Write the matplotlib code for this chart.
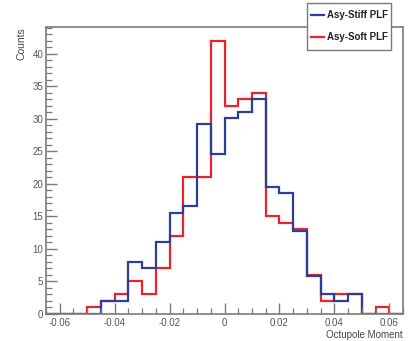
import numpy as np
import matplotlib
matplotlib.use("Agg")
import matplotlib.pyplot as plt
from matplotlib.ticker import MultipleLocator, FixedLocator, FixedFormatter
from matplotlib.lines import Line2D
from matplotlib.patches import Rectangle

# ---- data ----
bin_edges = np.round(np.arange(-0.065, 0.0651, 0.005), 4)
asy_soft = [0, 0, 0, 1, 2, 3, 5, 3, 7, 12, 21, 21, 42, 32, 33, 34,
            15, 14, 13, 6, 2, 3, 3, 0, 1, 0]
asy_stiff = [0, 0, 0, 0, 2, 2, 8, 7, 11, 15.6, 16.6, 29.2, 24.6, 30.2, 31.1, 33.1,
             19.6, 18.6, 12.8, 5.9, 3, 2, 3, 0, 0, 0]
x_ticks = [-0.06, -0.04, -0.02, 0, 0.02, 0.04, 0.06]
x_tick_labels = ["-0.06", "-0.04", "-0.02", "0", "0.02", "0.04", "0.06"]
y_ticks = [0, 5, 10, 15, 20, 25, 30, 35, 40]
series_names = ["Asy-Stiff PLF", "Asy-Soft PLF"]

BLUE = "#2b3f98"
RED = "#e8232a"
FRAME = "#7a7a7a"
TXT = "#555555"

plt.rcParams['font.family'] = ['Liberation Sans', 'DejaVu Sans']

W, H = 409, 341
fig = plt.figure(figsize=(W / 100, H / 100), dpi=100)
ax = fig.add_axes([46 / W, 1 - 314 / H, (403 - 46) / W, (314 - 27) / H])

ax.stairs(asy_soft, bin_edges, baseline=0, color=RED, linewidth=1.6)
ax.stairs(asy_stiff, bin_edges, baseline=0, color=BLUE, linewidth=1.6)

ax.set_xlim(-0.065, 0.065)
ax.set_ylim(0, 44.15)

ax.xaxis.set_major_locator(FixedLocator(x_ticks))
ax.xaxis.set_major_formatter(FixedFormatter(x_tick_labels))
ax.xaxis.set_minor_locator(MultipleLocator(0.005))
ax.yaxis.set_major_locator(FixedLocator(y_ticks))
ax.yaxis.set_minor_locator(MultipleLocator(1))

ax.tick_params(which='both', direction='in', top=False, right=False,
               color=FRAME, labelcolor=TXT, labelsize=7)
ax.tick_params(which='major', length=8, width=1.0)
ax.tick_params(which='minor', length=4, width=0.9)
ax.tick_params(axis='x', pad=3)
ax.tick_params(axis='y', pad=2)

for s in ax.spines.values():
    s.set_color(FRAME)
    s.set_linewidth(1.2)

ax.set_ylabel("Counts", fontsize=7.5, color="#444444", loc='top', labelpad=4)
ax.set_xlabel("Octupole Moment", fontsize=7, color="#444444", loc='right', labelpad=1)

# ---- legend (ROOT-style box) ----
def fx(px):
    return px / W

def fy(py):
    return 1 - py / H

fig.patches.append(Rectangle((fx(307), fy(50)), fx(391) - fx(307), fy(3) - fy(50),
                             transform=fig.transFigure, facecolor='white',
                             edgecolor=FRAME, linewidth=1.0, zorder=5))
for name, col, py in [(series_names[0], BLUE, 15), (series_names[1], RED, 37)]:
    fig.lines.append(Line2D([fx(311), fx(324)], [fy(py), fy(py)],
                            transform=fig.transFigure, color=col,
                            linewidth=1.6, zorder=6))
    fig.text(fx(327), fy(py), name, fontsize=7, fontweight='bold',
             color="#222222", va='center', ha='left', zorder=6)

fig.savefig("out.png", dpi=100)
